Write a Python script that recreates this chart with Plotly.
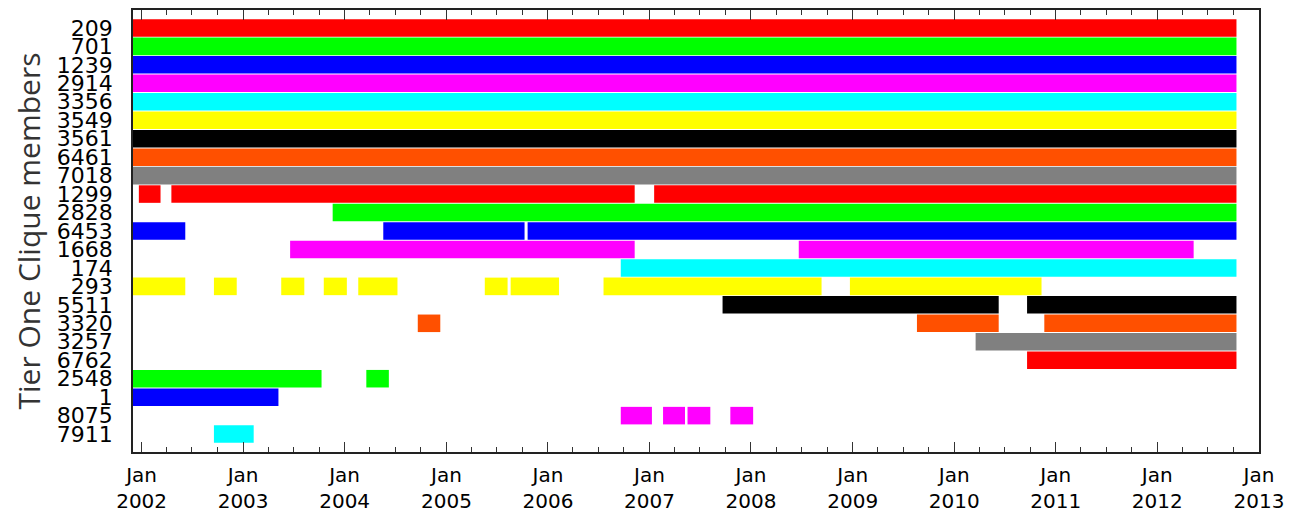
import pandas as pd
import plotly.graph_objects as go

members = ["209", "701", "1239", "2914", "3356", "3549", "3561", "6461", "7018",
           "1299", "2828", "6453", "1668", "174", "293", "5511", "3320", "3257",
           "6762", "2548", "1", "8075", "7911"]

palette = ["#ff0000", "#00ff00", "#0000ff", "#ff00ff", "#00ffff",
           "#ffff00", "#000000", "#ff5000", "#808080"]
colors = [palette[i % len(palette)] for i in range(len(members))]

FIRST = "2001-11-19"
LAST = "2012-10-12"

segments = {
    "209":  [(FIRST, LAST)],
    "701":  [(FIRST, LAST)],
    "1239": [(FIRST, LAST)],
    "2914": [(FIRST, LAST)],
    "3356": [(FIRST, LAST)],
    "3549": [(FIRST, LAST)],
    "3561": [(FIRST, LAST)],
    "6461": [(FIRST, LAST)],
    "7018": [(FIRST, LAST)],
    "1299": [("2001-12-22", "2002-03-10"), ("2002-04-18", "2006-11-09"), ("2007-01-18", LAST)],
    "2828": [("2003-11-19", LAST)],
    "6453": [(FIRST, "2002-06-07"), ("2004-05-19", "2005-10-09"), ("2005-10-20", LAST)],
    "1668": [("2003-06-19", "2006-11-09"), ("2008-06-21", "2012-05-11")],
    "174":  [("2006-09-20", LAST)],
    "293":  [(FIRST, "2002-06-07"), ("2002-09-18", "2002-12-09"), ("2003-05-18", "2003-08-09"),
             ("2003-10-18", "2004-01-09"), ("2004-02-19", "2004-07-09"), ("2005-05-19", "2005-08-09"),
             ("2005-08-20", "2006-02-10"), ("2006-07-20", "2008-09-11"), ("2008-12-22", "2010-11-11")],
    "5511": [("2007-09-21", "2010-06-10"), ("2010-09-20", LAST)],
    "3320": [("2004-09-20", "2004-12-10"), ("2009-08-20", "2010-06-10"), ("2010-11-21", LAST)],
    "3257": [("2010-03-19", LAST)],
    "6762": [("2010-09-20", LAST)],
    "2548": [(FIRST, "2003-10-10"), ("2004-03-19", "2004-06-08")],
    "1":    [(FIRST, "2003-05-08")],
    "8075": [("2006-09-20", "2007-01-10"), ("2007-02-19", "2007-05-09"),
             ("2007-05-18", "2007-08-08"), ("2007-10-19", "2008-01-09")],
    "7911": [("2002-09-18", "2003-02-08")],
}

y_title = "Tier One Clique members"

fig = go.Figure()
for m, c in zip(members, colors):
    segs = segments[m]
    starts = [s for s, e in segs]
    durs = [(pd.Timestamp(e) - pd.Timestamp(s)).total_seconds() * 1000 for s, e in segs]
    fig.add_trace(go.Bar(
        y=[m] * len(segs), x=durs, base=starts, orientation="h",
        marker=dict(color=c, line=dict(width=0)), width=0.95, name=m,
        showlegend=False, hoverinfo="skip"))

# page body adds an 8px offset, so the figure is 8px smaller each way
fig.update_layout(
    width=1297, height=505,
    margin=dict(l=125, r=46, t=2, b=61, autoexpand=False),
    paper_bgcolor="white", plot_bgcolor="white",
    barmode="overlay",
    font=dict(family="DejaVu Sans", color="black"),
)
fig.update_xaxes(
    type="date", range=["2001-12-01", "2013-01-01"],
    tick0="2002-01-01", dtick="M12", tickformat="%b<br>%Y",
    ticks="inside", ticklen=10, tickwidth=1, tickcolor="#333",
    minor=dict(dtick="M3", tick0="2002-01-01", ticks="inside", ticklen=5, tickcolor="#333", tickwidth=1),
    showline=True, linecolor="#222", linewidth=1.5, mirror="allticks",
    showgrid=False, zeroline=False,
    tickfont=dict(family="DejaVu Sans", size=20, color="black"),
    ticklabelstandoff=4,
)
fig.update_yaxes(
    type="category", categoryorder="array", categoryarray=members,
    tickmode="array", tickvals=members, ticktext=members,
    range=[22.97, -0.97],
    showline=True, linecolor="#222", linewidth=1.5, mirror=True,
    showgrid=False, zeroline=False, ticks="",
    tickfont=dict(family="DejaVu Sans", size=22, color="black"),
    ticklabelstandoff=14,
    title=dict(text=y_title, font=dict(family="Open Sans", size=30, color="#333"), standoff=10),
)

fig.write_html("out.html")
